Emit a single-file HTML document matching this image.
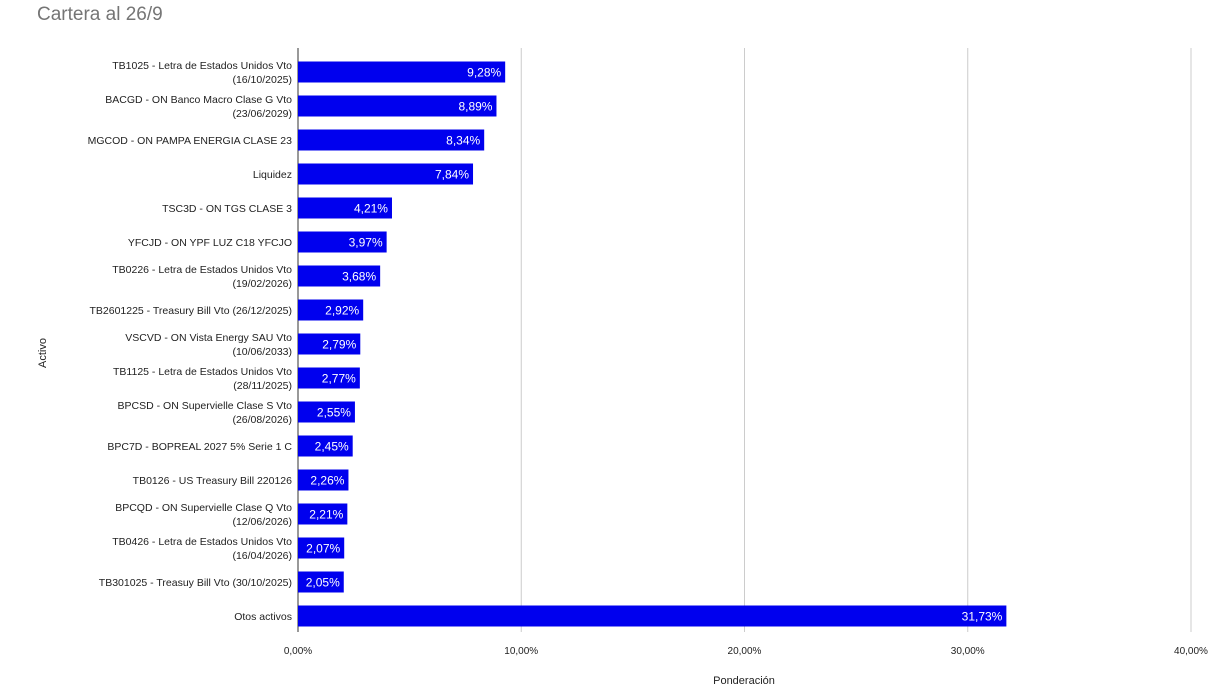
<!DOCTYPE html>
<html><head><meta charset="utf-8"><style>
body{margin:0;background:#fff;width:1230px;height:692px;overflow:hidden;font-family:"Liberation Sans",sans-serif}
</style></head><body>
<svg width="1230" height="692" id="chart">
<text x="37" y="20" font-size="19" fill="#757575">Cartera al 26/9</text>
<text x="744" y="684" font-size="11" text-anchor="middle" fill="#222">Ponderación</text>
<text transform="translate(46,353) rotate(-90)" font-size="11" text-anchor="middle" fill="#222">Activo</text>
<g id="grid"></g><g id="bars"></g>
</svg>
<script>
const categories=[["TB1025 - Letra de Estados Unidos Vto","(16/10/2025)"],["BACGD - ON Banco Macro Clase G Vto","(23/06/2029)"],["MGCOD - ON PAMPA ENERGIA CLASE 23"],["Liquidez"],["TSC3D - ON TGS CLASE 3"],["YFCJD - ON YPF LUZ C18 YFCJO"],["TB0226 - Letra de Estados Unidos Vto","(19/02/2026)"],["TB2601225 - Treasury Bill Vto (26/12/2025)"],["VSCVD - ON Vista Energy SAU Vto","(10/06/2033)"],["TB1125 - Letra de Estados Unidos Vto","(28/11/2025)"],["BPCSD - ON Supervielle Clase S Vto","(26/08/2026)"],["BPC7D - BOPREAL 2027 5% Serie 1 C"],["TB0126 - US Treasury Bill 220126"],["BPCQD - ON Supervielle Clase Q Vto","(12/06/2026)"],["TB0426 - Letra de Estados Unidos Vto","(16/04/2026)"],["TB301025 - Treasuy Bill Vto (30/10/2025)"],["Otos activos"]];
const values=[9.28,8.89,8.34,7.84,4.21,3.97,3.68,2.92,2.79,2.77,2.55,2.45,2.26,2.21,2.07,2.05,31.73];
const ticks=[0,10,20,30,40];
const tickLabels=["0,00%","10,00%","20,00%","30,00%","40,00%"];
const NS="http://www.w3.org/2000/svg";
const x0=298,x1=1191,xmax=40,top0=55,step=34,bh=21;
const xs=v=>x0+v/xmax*(x1-x0);
const yc=i=>top0+step*i+step/2;
const grid=document.getElementById('grid'),bars=document.getElementById('bars');
function mk(tag,attrs,parent){const e=document.createElementNS(NS,tag);for(const k in attrs)e.setAttribute(k,attrs[k]);parent.appendChild(e);return e;}
ticks.forEach((t,i)=>{
 const l=mk('line',{x1:xs(t),x2:xs(t),y1:48,y2:632,stroke:t===0?'#333':'#ccc','stroke-width':1},grid);
 
 
 const tx=mk('text',{x:xs(t),y:654,'font-size':10,'text-anchor':'middle',fill:'#222'},grid);
 tx.textContent=tickLabels[i];
 
 
});
values.forEach((v,i)=>{
 const y=yc(i);
 const r=mk('rect',{x:x0,y:y-bh/2,width:xs(v)-x0,height:bh,fill:'#0000ee'},bars);
 
 
 const t=mk('text',{x:xs(v)-4,y:y+4.5,'font-size':12,'text-anchor':'end',fill:'#fff'},bars);
 t.textContent=v.toFixed(2).replace('.',',')+'%';
 
 
 const lines=categories[i];
 lines.forEach((s,j)=>{
  const ly=y+4+(j-(lines.length-1)/2)*14;
  const c=mk('text',{x:292,y:ly,'font-size':10.5,'text-anchor':'end',fill:'#222'},bars);
  c.textContent=s;
  
  
 });
});
</script>
</body></html>
